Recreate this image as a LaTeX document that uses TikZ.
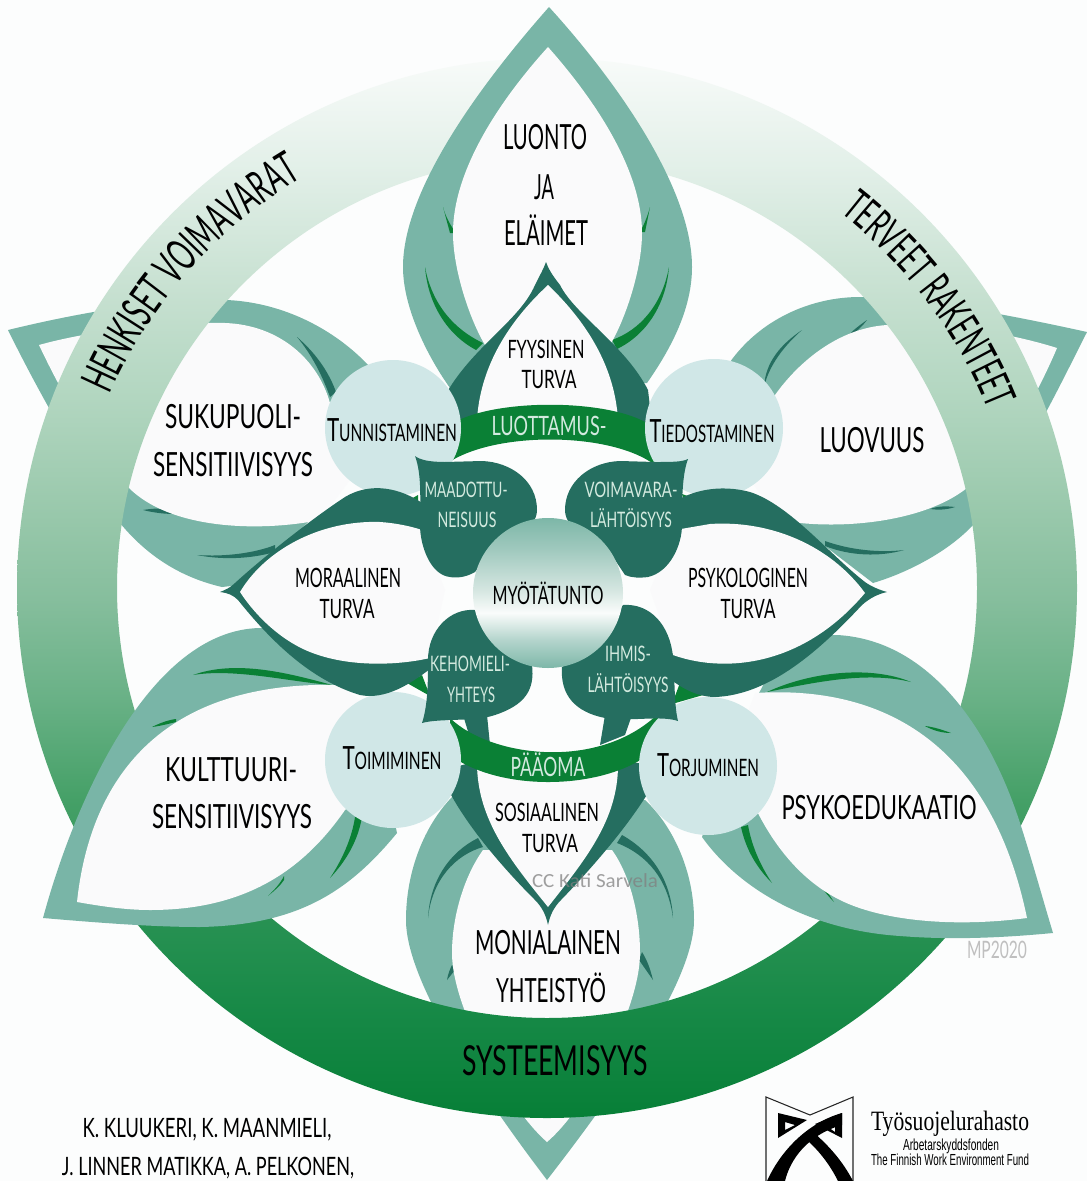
\documentclass[tikz,border=0pt]{standalone}
\usepackage{fontspec}
\usepackage{graphicx}
\usetikzlibrary{decorations.text}
\newfontfamily\deco{Lato}
\newfontfamily\ringfont[FakeStretch=0.56]{Lato}
\newfontfamily\logofont{Liberation Serif}
\newfontfamily\logosans{Liberation Sans}
\newfontfamily\noticefont{Carlito}
\definecolor{bgc}{HTML}{FCFDFD}
\definecolor{paperc}{HTML}{FAFAFB}
\definecolor{tealc}{HTML}{79B5A7}
\definecolor{darkc}{HTML}{256E60}
\definecolor{greenc}{HTML}{0A8035}
\definecolor{circc}{HTML}{D0E7E7}
\definecolor{palec}{HTML}{D3EADF}
\definecolor{rA}{HTML}{077F37}\definecolor{rB}{HTML}{158845}\definecolor{rC}{HTML}{2B9355}
\definecolor{rD}{HTML}{45A067}\definecolor{rE}{HTML}{69B186}\definecolor{rF}{HTML}{86BE9D}
\definecolor{rG}{HTML}{9CCAAE}\definecolor{rH}{HTML}{B2D6C0}\definecolor{rI}{HTML}{C6E0D0}
\definecolor{rJ}{HTML}{E3F0E9}\definecolor{rK}{HTML}{F8FBF9}
\definecolor{cA}{HTML}{7DB7A8}\definecolor{cB}{HTML}{B5D5CD}\definecolor{cC}{HTML}{FAFCFB}
\definecolor{cD}{HTML}{D5E6E1}\definecolor{cE}{HTML}{A0C9BE}
\pgfdeclareverticalshading{ringsh}{100bp}{color(0bp)=(rA); color(25bp)=(rA); color(29.5bp)=(rB);
 color(35.2bp)=(rC); color(40bp)=(rD); color(44.8bp)=(rE); color(49.5bp)=(rF); color(54.3bp)=(rG);
 color(59bp)=(rH); color(63.8bp)=(rI); color(70bp)=(rJ); color(75bp)=(rK); color(100bp)=(rK)}
\pgfdeclareverticalshading{centersh}{100bp}{color(0bp)=(cA); color(25bp)=(cA); color(34.5bp)=(cB);
 color(43.4bp)=(cC); color(51bp)=(cD); color(64.5bp)=(cE); color(75bp)=(cA); color(100bp)=(cA)}
\newsavebox\fitsv
\newlength\fith
\newcommand\fitbox[3]{\sbox\fitsv{#2#3}\setlength\fith{\ht\fitsv}\resizebox{\dimexpr#1pt*3/4\relax}{\fith}{\usebox\fitsv}}
\newcommand\lab[7][black]{\node[lab,text=#1] (#2) at (#3,#4) {\fitbox{#5}{\deco\fontsize{#6}{#6}\selectfont}{#7}};}
\begin{document}
\begin{tikzpicture}[x=0.75pt,y=-0.75pt,
 lab/.style={inner sep=0pt,outer sep=0pt,anchor=base},
 tealleaf/.style={fill=tealc},
 paperleaf/.style={fill=paperc},
 darkleaf/.style={fill=darkc},
 greenfill/.style={fill=greenc},
 softcircle/.style={fill=circc},
 logoink/.style={fill=black},
 logoline/.style={draw=black!85,line width=0.8pt}]
\fill[bgc] (0,0) rectangle (1087,1181);
\useasboundingbox (0,0) rectangle (1087,1181);
\clip (0,0) rectangle (1087,1181);

% ---------- leaves behind the ring
% upper left
\path[tealleaf] (8,330) .. controls (90,310) and (170,298) .. (227,300) .. controls (290,303) and (340,335) .. (368,365) -- (340,490) -- (300,530) -- (240,585) -- (222,587) .. controls (170,575) and (135,545) .. (110,510) .. controls (75,455) and (40,395) .. (8,330) -- cycle;
\path[darkleaf] (197,555) .. controls (225,557) and (255,553) .. (275,545) -- (275,552) .. controls (250,559) and (222,560) .. (197,555) -- cycle;
\path[darkleaf] (297,337) .. controls (318,355) and (330,375) .. (336,392) -- (330,397) .. controls (322,375) and (312,355) .. (297,337) -- cycle;
\path[darkleaf] (143,510) .. controls (155,508) and (165,508) .. (176,510) -- (176,514) .. controls (165,514) and (155,513) .. (143,510) -- cycle;
\path[darkleaf] (230,325) .. controls (236,328) and (242,332) .. (246,336) -- (243,337) .. controls (239,333) and (235,329) .. (230,325) -- cycle;
\path[paperleaf] (39,345) .. controls (100,328) and (180,322) .. (225,323) .. controls (280,325) and (318,360) .. (330,403) -- (350,480) -- (320,520) .. controls (260,532) and (170,530) .. (128,487) .. controls (95,450) and (65,400) .. (39,345) -- cycle;
% upper right
\path[tealleaf] (730,362) .. controls (760,320) and (810,297) .. (860,297) .. controls (920,298) and (1010,315) .. (1087,332) .. controls (1060,385) and (1020,470) .. (973,525) .. controls (950,550) and (910,572) .. (873,583) -- (830,550) -- (790,520) -- (760,480) -- cycle;
\path[darkleaf] (802,330) .. controls (785,345) and (772,362) .. (766,380) -- (764,386) .. controls (766,362) and (780,345) .. (802,330) -- cycle;
\path[darkleaf] (825,541) .. controls (850,550) and (880,553) .. (904,550) .. controls (880,557) and (850,556) .. (825,546) -- cycle;
\path[darkleaf] (930,509) .. controls (938,506) and (946,506) .. (955,507) .. controls (946,510) and (938,510) .. (930,509) -- cycle;
\path[darkleaf] (867,320) .. controls (860,325) and (853,330) .. (848,336) .. controls (855,333) and (861,328) .. (867,320) -- cycle;
\path[paperleaf] (1057,348) .. controls (1000,330) and (930,322) .. (887,325) .. controls (840,328) and (800,360) .. (775,395) -- (750,480) -- (780,520) .. controls (830,530) and (920,525) .. (967,488) .. controls (1000,460) and (1035,400) .. (1057,348) -- cycle;
% bottom
\path[tealleaf] (452,797) .. controls (425,825) and (406,870) .. (406,920) .. controls (406,985) and (490,1105) .. (547,1180) .. controls (605,1105) and (694,985) .. (694,920) .. controls (694,870) and (672,825) .. (645,800) -- cycle;
\path[darkleaf] (428,918) .. controls (432,880) and (455,855) .. (483,847) -- (478,838) .. controls (450,852) and (430,880) .. (428,918) -- cycle;
\path[darkleaf] (673,918) .. controls (668,880) and (648,855) .. (617,843) -- (622,835) .. controls (652,852) and (671,880) .. (673,918) -- cycle;
\path[darkleaf] (447,980) .. controls (448,974) and (450,969) .. (452,965) -- (455,970) -- cycle;
\path[darkleaf] (653,980) .. controls (650,968) and (647,960) .. (642,952) -- (639,960) -- cycle;
\path[paperleaf] (547,1142) .. controls (510,1110) and (452,1010) .. (452,953) .. controls (452,915) and (465,875) .. (483,850) -- (612,850) .. controls (630,875) and (640,915) .. (640,953) .. controls (640,1010) and (585,1110) .. (547,1142) -- cycle;

% ---------- ring
\path[shading=ringsh,even odd rule] (547,588) circle[radius=530] (547,588) circle[radius=430];

% ---------- leaves over the ring
% top
\path[tealleaf] (549,7) .. controls (480,85) and (403,190) .. (403,267) .. controls (403,310) and (430,360) .. (450,388) -- (647,383) .. controls (670,350) and (692,310) .. (692,267) .. controls (692,190) and (620,85) .. (549,7) -- cycle;
\path[greenfill] (425,267) .. controls (432,305) and (455,330) .. (483,343) -- (476,350) .. controls (448,335) and (428,305) .. (425,267) -- cycle;
\path[greenfill] (669,267) .. controls (662,305) and (640,330) .. (612,340) -- (617,349) .. controls (646,335) and (666,305) .. (669,267) -- cycle;
\path[greenfill] (443,207) .. controls (445,215) and (450,225) .. (456,233) -- (450,233) -- cycle;
\path[greenfill] (650,207) .. controls (648,215) and (644,225) .. (640,232) -- (645,232) -- cycle;
\path[paperleaf] (548,47) .. controls (500,100) and (453,170) .. (453,233) .. controls (453,270) and (470,320) .. (485,345) -- (610,345) .. controls (625,320) and (642,270) .. (642,233) .. controls (642,170) and (595,100) .. (548,47) -- cycle;
% lower left
\path[tealleaf] (43,918) .. controls (75,800) and (150,630) .. (260,628) .. controls (290,628) and (320,665) .. (340,690) -- (360,705) -- (390,800) -- (397,833) .. controls (350,890) and (300,925) .. (200,927) .. controls (150,927) and (90,922) .. (43,918) -- cycle;
\path[greenfill] (193,675) .. controls (235,660) and (285,672) .. (332,685) .. controls (290,682) and (235,668) .. (193,675) -- cycle;
\path[greenfill] (152,727) .. controls (160,723) and (168,720) .. (176,719) -- (176,722) .. controls (168,724) and (160,726) .. (152,727) -- cycle;
\path[greenfill] (362,817) .. controls (358,840) and (347,860) .. (330,878) .. controls (342,860) and (352,838) .. (355,817) -- cycle;
\path[greenfill] (268,896) .. controls (274,890) and (280,884) .. (284,876) -- (284,880) .. controls (280,886) and (274,891) .. (268,896) -- cycle;
\path[paperleaf] (77,902) .. controls (90,780) and (160,680) .. (340,685) -- (385,720) -- (370,790) -- (345,810) .. controls (300,875) and (240,910) .. (150,910) .. controls (125,910) and (100,906) .. (77,902) -- cycle;
% lower right
\path[tealleaf] (770,672) .. controls (785,645) and (810,635) .. (837,635) .. controls (930,640) and (990,730) .. (1020,823) .. controls (1032,860) and (1043,900) .. (1053,933) .. controls (1000,938) and (950,940) .. (900,936) .. controls (810,930) and (740,890) .. (702,837) -- (720,790) -- (745,720) -- cycle;
\path[greenfill] (767,692) .. controls (810,672) and (870,665) .. (911,682) .. controls (870,672) and (825,680) .. (767,692) -- cycle;
\path[greenfill] (925,726) .. controls (934,727) and (943,730) .. (951,733) .. controls (943,733) and (934,731) .. (925,726) -- cycle;
\path[greenfill] (741,827) .. controls (746,850) and (757,868) .. (772,883) .. controls (762,868) and (752,848) .. (748,825) -- cycle;
\path[greenfill] (820,885) .. controls (824,891) and (829,897) .. (834,902) .. controls (830,896) and (826,890) .. (822,884) -- cycle;
\path[paperleaf] (1027,918) .. controls (950,928) and (880,920) .. (840,900) .. controls (800,880) and (775,845) .. (760,817) -- (740,780) -- (745,720) -- (755,693) .. controls (880,685) and (990,740) .. (1027,918) -- cycle;

% ---------- top and bottom safety leaves with bands
\path[darkleaf] (445,450) -- (447,392) .. controls (475,345) and (520,320) .. (535,285) .. controls (540,275) and (544,268) .. (546,262) .. controls (548,268) and (552,275) .. (560,285) .. controls (575,315) and (625,345) .. (648,390) -- (655,450) -- (620,430) -- (550,425) -- (480,430) -- cycle;
\path[paperleaf] (477,420) .. controls (480,370) and (505,325) .. (548,285) .. controls (590,325) and (615,370) .. (618,420) -- cycle;
\path[greenfill] (450,425) .. controls (490,398) and (610,398) .. (650,425) -- (655,465) .. controls (610,431) and (490,431) .. (445,465) -- cycle;

\path[darkleaf] (463,715) -- (487,715) -- (490,745) -- (470,738) -- cycle;
\path[darkleaf] (605,715) -- (632,715) -- (625,735) -- (600,745) -- cycle;
\path[darkleaf] (445,770) -- (450,793) .. controls (470,830) and (505,870) .. (535,900) .. controls (542,907) and (546,915) .. (548,925) .. controls (550,915) and (554,907) .. (561,900) .. controls (590,870) and (625,830) .. (648,793) -- (650,765) -- (620,760) -- (550,770) -- (480,760) -- cycle;
\path[paperleaf] (477,765) .. controls (478,820) and (510,860) .. (548,907) .. controls (585,860) and (618,820) .. (618,765) -- cycle;
\path[greenfill] (450,718) .. controls (490,757) and (600,772) .. (660,712) -- (648,755) .. controls (600,790) and (500,792) .. (450,755) -- cycle;

% ---------- four circles
\node[circle,softcircle,minimum size=102pt,inner sep=0pt] (tunn) at (393,428) {};
\node[circle,softcircle,minimum size=103.5pt,inner sep=0pt] (tied) at (714,428) {};
\node[circle,softcircle,minimum size=102pt,inner sep=0pt] (toim) at (393,760) {};
\node[circle,softcircle,minimum size=103.5pt,inner sep=0pt] (torj) at (708,766) {};

% small green pieces
\path[greenfill] (407,683) -- (422,675) -- (430,696) -- cycle;
\path[greenfill] (672,704) -- (683,675) -- (710,693) -- cycle;
\path[greenfill] (682,494) -- (693,498) -- (685,506) -- cycle;
\path[greenfill] (411,499) -- (418,495) -- (418,502) -- cycle;

% ---------- side leaves
\path[darkleaf] (425,505) .. controls (400,487) and (370,482) .. (345,497) .. controls (310,520) and (260,560) .. (235,583) .. controls (230,588) and (225,590) .. (220,592) .. controls (228,593) and (233,595) .. (238,600) .. controls (270,640) and (310,680) .. (360,695) .. controls (385,700) and (410,685) .. (435,665) -- cycle;
\path[paperleaf] (240,592) .. controls (265,550) and (320,520) .. (380,522) .. controls (395,523) and (410,526) .. (422,530) -- (445,590) -- (430,658) .. controls (400,665) and (350,668) .. (310,652) .. controls (280,640) and (255,615) .. (240,592) -- cycle;
\path[darkleaf] (670,505) .. controls (690,490) and (720,484) .. (750,492) .. controls (790,505) and (830,555) .. (865,582) .. controls (872,587) and (880,590) .. (887,592) .. controls (878,594) and (870,598) .. (862,605) .. controls (820,650) and (770,695) .. (715,697) .. controls (695,697) and (675,685) .. (660,670) -- cycle;
\path[paperleaf] (865,593) .. controls (830,545) and (770,520) .. (710,524) -- (675,530) -- (650,590) -- (673,655) .. controls (720,672) and (800,670) .. (865,593) -- cycle;

% ---------- four small leaves
\path[darkleaf] (415,456) .. controls (420,460) and (430,462) .. (445,462) -- (482,461) .. controls (510,462) and (537,480) .. (537,510) .. controls (537,520) and (530,528) .. (520,532) -- (497,545) -- (475,572) .. controls (465,578) and (455,578) .. (450,577) .. controls (430,575) and (420,545) .. (420,525) .. controls (420,500) and (422,475) .. (415,456) -- cycle;
\path[darkleaf] (688,459) .. controls (682,462) and (672,462) .. (655,462) -- (620,461) .. controls (590,462) and (565,482) .. (565,510) .. controls (565,520) and (572,528) .. (580,532) -- (605,545) -- (625,575) .. controls (632,578) and (640,578) .. (648,577) .. controls (670,572) and (682,545) .. (682,525) .. controls (682,500) and (682,475) .. (688,459) -- cycle;
\path[darkleaf] (422,723) .. controls (428,705) and (428,680) .. (428,660) .. controls (428,630) and (450,608) .. (475,610) -- (505,650) -- (532,665) .. controls (535,690) and (525,705) .. (495,715) .. controls (475,722) and (440,718) .. (422,723) -- cycle;
\path[darkleaf] (678,721) .. controls (674,705) and (675,680) .. (673,657) .. controls (670,625) and (650,603) .. (623,605) -- (595,650) -- (562,667) .. controls (560,695) and (575,712) .. (605,718) .. controls (630,722) and (660,715) .. (678,721) -- cycle;

% centre circle
\path[shading=centersh] (548,593) circle[radius=75];

% ---------- ring texts
\path[decorate,decoration={text along path,text={|\ringfont\fontsize{34}{34}\selectfont|HENKISET VOIMAVARAT},text align=center}]
 ({547+478*cos(157.5)},{588-478*sin(157.5)}) arc[start angle=-157.5,end angle=-119.5,radius=478];
\path[decorate,decoration={text along path,text={|\ringfont\fontsize{33}{33}\selectfont|TERVEET RAKENTEET},text align=center}]
 ({547+476*cos(52)},{588-476*sin(52)}) arc[start angle=-52,end angle=-22,radius=476];

% ---------- labels
\lab{luonto}{545}{149}{84}{26}{LUONTO}
\lab{ja}{544}{199}{20}{26}{JA}
\lab{elaimet}{546}{245}{84}{26}{ELÄIMET}
\lab{fyys}{546}{358}{77}{19}{FYYSINEN}
\lab{fturva}{549}{388}{55}{19}{TURVA}
\lab[palec]{luott}{549}{435}{115}{20}{LUOTTAMUS-}
\lab{tunntx}{392}{441}{130}{18}{{\fontsize{24}{24}\selectfont T}UNNISTAMINEN}
\lab{tiedtx}{712}{442}{125}{18}{{\fontsize{24}{24}\selectfont T}IEDOSTAMINEN}
\lab[palec]{maad}{466}{497}{83}{16}{MAADOTTU-}
\lab[palec]{neis}{467}{527}{59}{16}{NEISUUS}
\lab[palec]{voim}{631}{497}{93}{16}{VOIMAVARA-}
\lab[palec]{lahta}{631}{527}{82}{16}{LÄHTÖISYYS}
\lab{myot}{548}{604}{111}{19}{MYÖTÄTUNTO}
\lab{moraa}{348}{587}{106}{20}{MORAALINEN}
\lab{mturva}{347}{618}{55}{20}{TURVA}
\lab{psyk}{748}{587}{120}{20}{PSYKOLOGINEN}
\lab{pturva}{748}{618}{55}{20}{TURVA}
\lab[palec]{keho}{470}{671}{80}{16}{KEHOMIELI-}
\lab[palec]{yhte}{471}{702}{48}{16}{YHTEYS}
\lab[palec]{ihmis}{628}{661}{46}{16}{IHMIS-}
\lab[palec]{lahtb}{628}{692}{81}{16}{LÄHTÖISYYS}
\lab[palec]{paaoma}{548}{776}{75}{20}{PÄÄOMA}
\lab{toimtx}{392}{769}{99}{18}{{\fontsize{24}{24}\selectfont T}OIMIMINEN}
\lab{torjtx}{708}{776}{102}{18}{{\fontsize{24}{24}\selectfont T}ORJUMINEN}
\lab{sosi}{547}{821}{104}{19}{SOSIAALINEN}
\lab{sturva}{550}{852}{56}{19}{TURVA}
\lab{monia}{548}{954}{146}{25}{MONIALAINEN}
\lab{yhtei}{551}{1002}{110}{25}{YHTEISTYÖ}
\lab{syst}{555}{1075}{185}{31}{SYSTEEMISYYS}
\lab{suku}{233}{428}{136}{25}{SUKUPUOLI-}
\lab{sensa}{233}{476}{160}{25}{SENSITIIVISYYS}
\lab{luov}{872}{452}{105}{26}{LUOVUUS}
\lab{kult}{231}{781}{132}{25}{KULTTUURI-}
\lab{sensb}{232}{828}{160}{25}{SENSITIIVISYYS}
\lab{psed}{879}{819}{195}{25}{PSYKOEDUKAATIO}
\lab[black!25]{mpy}{997}{958}{60}{18}{MP2020}
\lab{credita}{207}{1137}{249}{20}{K. KLUUKERI, K. MAANMIELI,}
\lab{creditb}{208}{1175}{292}{19}{J. LINNER MATIKKA, A. PELKONEN,}
\node[lab,text=gray,text opacity=.75] (notice) at (595,887) {\fitbox{126}{\noticefont\fontsize{15}{15}\selectfont}{CC Kati Sarvela}};

% ---------- logo
\draw[logoline] (766,1181) -- (766,1097) -- (810,1115) -- (853,1097) -- (853,1181);
\path[logoink] (842,1113) .. controls (810,1122) and (782,1148) .. (767,1181) -- (785,1181) .. controls (790,1160) and (807,1135) .. (842,1125) -- cycle;
\path[logoink,even odd rule] (842,1113) -- (842,1138) -- (815,1124) -- cycle (835,1121) -- (835,1132) -- (825,1125) -- cycle;
\path[logoink,even odd rule] (778,1113) -- (807,1120) -- (778,1138) -- cycle (785,1122) -- (795,1125) -- (785,1130) -- cycle;
\path[logoink] (813,1132) .. controls (828,1145) and (842,1160) .. (853,1181) -- (838,1181) .. controls (830,1165) and (820,1152) .. (808,1141) -- cycle;
\node[lab] (tsr) at (950,1130) {\fitbox{158}{\logofont\fontsize{21}{21}\selectfont}{Työsuojelurahasto}};
\node[lab] (tsa) at (951,1150) {\fitbox{96}{\logosans\fontsize{12}{12}\selectfont}{Arbetarskyddsfonden}};
\node[lab] (tsb) at (950,1165) {\fitbox{158}{\logosans\fontsize{12}{12}\selectfont}{The Finnish Work Environment Fund}};
\end{tikzpicture}
\end{document}
